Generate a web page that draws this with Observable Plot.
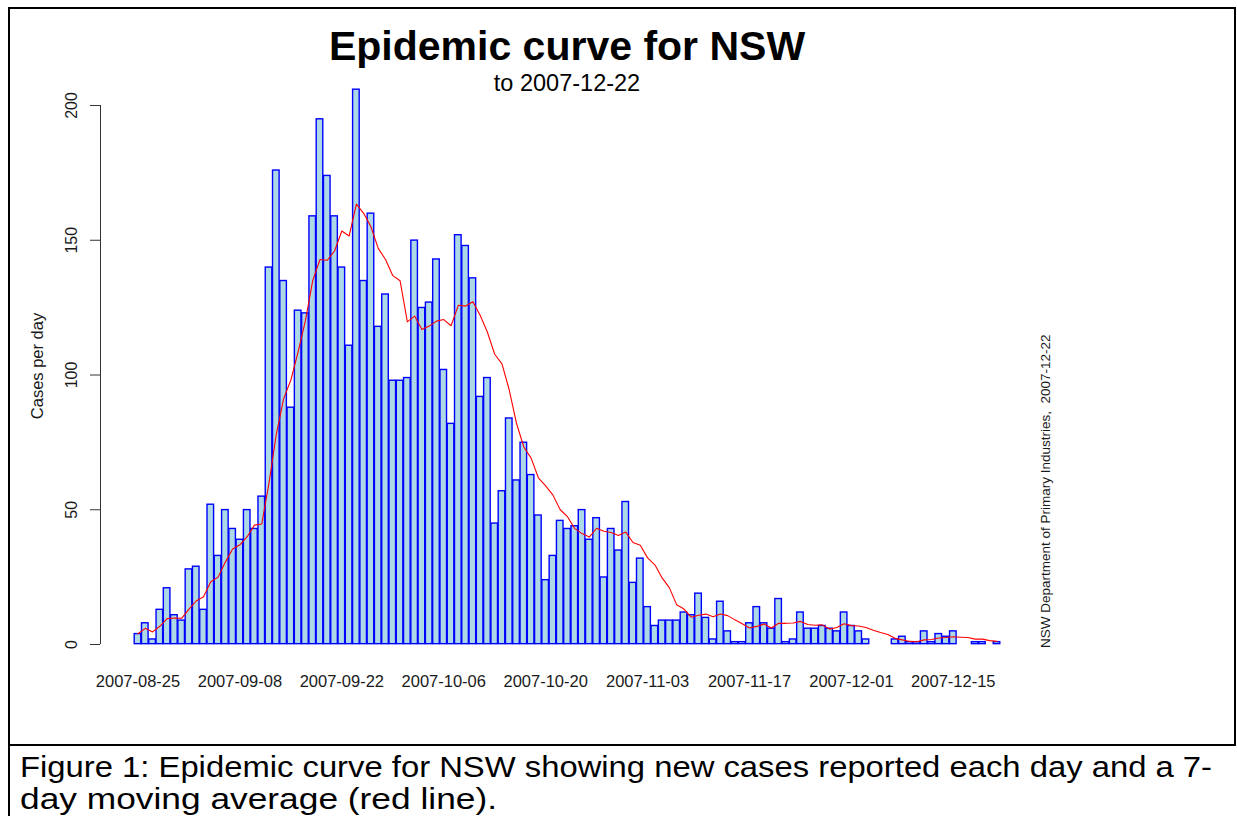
<!DOCTYPE html>
<html>
<head>
<meta charset="utf-8">
<script src="https://cdn.jsdelivr.net/npm/d3@7"></script>
<script src="https://cdn.jsdelivr.net/npm/@observablehq/plot@0.6"></script>
<style>
  html, body { margin: 0; padding: 0; background: #fff; }
  #fig { position: relative; width: 1237px; height: 816px; overflow: hidden; background: #fff;
         font-family: "Liberation Sans", Arial, Helvetica, sans-serif; color: #000; }
  #chart { position: absolute; left: 0; top: 0; }
  .abs { position: absolute; white-space: pre; }
  .capline { position: absolute; left: 20px; white-space: pre; font-size: 29px; line-height: 32.4px; transform-origin: 0 0; }
</style>
</head>
<body>
<div id="fig">
  <div id="box1" style="position:absolute;left:8px;top:7px;width:1228px;height:739px;box-sizing:border-box;border:2px solid #000;"></div>
  <div id="box2" style="position:absolute;left:8px;top:745px;width:2px;height:71px;background:#000;"></div>
  <div id="chart"></div>
  <div id="title" class="abs" style="left:567px;top:23.9px;transform:translateX(-50%);font-size:41px;line-height:45.8px;font-weight:bold;">Epidemic curve for NSW</div>
  <div id="subtitle" class="abs" style="left:567px;top:70px;transform:translateX(-50%);font-size:23.5px;line-height:26.25px;">to 2007-12-22</div>
  <div id="ylab" class="abs" style="left:37px;top:366px;transform:translate(-50%,-50%) rotate(-90deg);font-size:16.5px;line-height:16.5px;color:#1a1a1a;">Cases per day</div>
  <div id="credit" class="abs" style="left:1039px;top:648px;transform-origin:0 0;transform:rotate(-90deg);font-size:13.5px;line-height:13.5px;color:#1a1a1a;">NSW Department of Primary Industries,  2007-12-22</div>
  <div id="cap1" class="capline" style="top:750.8px;">Figure 1: Epidemic curve for NSW showing new cases reported each day and a 7-</div>
  <div id="cap2" class="capline" style="top:783.3px;">day moving average (red line).</div>
</div>
<script>
// ---- data ----
const startDate = "2007-08-25";
const cases = [
  4, 8, 2, 13, 21, 11, 9, 28, 29, 13,
  52, 33, 50, 43, 39, 50, 43, 55, 140, 176,
  135, 88, 124, 123, 159, 195, 174, 159, 140, 111,
  206, 135, 160, 118, 130, 98, 98, 99, 150, 125,
  127, 143, 102, 82, 152, 148, 136, 92, 99, 45,
  57, 84, 61, 75, 63, 48, 24, 33, 46, 43,
  44, 50, 39, 47, 25, 43, 35, 53, 23, 32,
  14, 7, 9, 9, 9, 12, 11, 19, 10, 2,
  16, 5, 1, 1, 8, 14, 8, 6, 17, 1,
  2, 12, 6, 6, 7, 6, 5, 12, 7, 5,
  2, 0, 0, 0, 2, 3, 1, 1, 5, 1,
  4, 3, 5, 0, 0, 1, 1, 0, 1
];
const tickLabels = ["2007-08-25", "2007-09-08", "2007-09-22", "2007-10-06", "2007-10-20",
                    "2007-11-03", "2007-11-17", "2007-12-01", "2007-12-15"];
const yTicks = [0, 50, 100, 150, 200];
const windowDays = 7;

// ---- build table ----
const parse = d3.utcParse("%Y-%m-%d");
const day0 = parse(startDate);
const data = cases.map((c, i) => ({date: d3.utcDay.offset(day0, i), cases: c}));
const tickDates = tickLabels.map(parse);
const xDomain = [d3.utcHour.offset(data[0].date, -12), d3.utcHour.offset(data[data.length - 1].date, 12)];

const W = 1237, H = 740;
const mLeft = 133.86, mRight = 236.86, mTop = 105, mBottom = 96;
const axisShift = 100 - mLeft; // y axis sits left of the bars, as in R's barplot

const chart = Plot.plot({
  width: W, height: H,
  marginLeft: mLeft, marginRight: mRight, marginTop: mTop, marginBottom: mBottom,
  style: {fontFamily: '"Liberation Sans", Arial, Helvetica, sans-serif', background: "transparent", color: "#1a1a1a", overflow: "visible"},
  x: {type: "utc", domain: xDomain},
  y: {domain: [0, 200]},
  marks: [
    Plot.ruleX([xDomain[0]], {y1: 0, y2: 200, dx: axisShift, stroke: "#333", strokeWidth: 1}),
    Plot.axisY(yTicks, {tickSize: 10, tickRotate: -90, tickPadding: 14, dx: axisShift, fontSize: 16, label: null, stroke: "#333"}),
    Plot.axisX(tickDates, {tickSize: 0, tickPadding: 31, tickFormat: d3.utcFormat("%Y-%m-%d"), fontSize: 16.5, label: null}),
    Plot.rectY(data, {
      x1: d => d3.utcHour.offset(d.date, -12),
      x2: d => d3.utcHour.offset(d.date, 12),
      y1: 0, y2: "cases",
      fill: "#ADD8E6", stroke: "#0000FF", strokeWidth: 1.4, inset: 0.35
    }),
    Plot.lineY(data, Plot.windowY({k: windowDays, anchor: "end", strict: false, reduce: "mean"},
      {x: "date", y: "cases", stroke: "#FF0000", strokeWidth: 1.1}))
  ]
});
document.getElementById("chart").appendChild(chart);

// fit the caption lines to the widths seen in the reference
function fitCaption() {
  const targets = [["cap1", 1192], ["cap2", 477]];
  for (const [id, target] of targets) {
    const el = document.getElementById(id);
    el.style.transform = "none";
    const w = el.getBoundingClientRect().width;
    if (w > 0) el.style.transform = `scaleX(${target / w})`;
  }
}
fitCaption();
if (document.fonts && document.fonts.ready) document.fonts.ready.then(fitCaption);
</script>
</body>
</html>
